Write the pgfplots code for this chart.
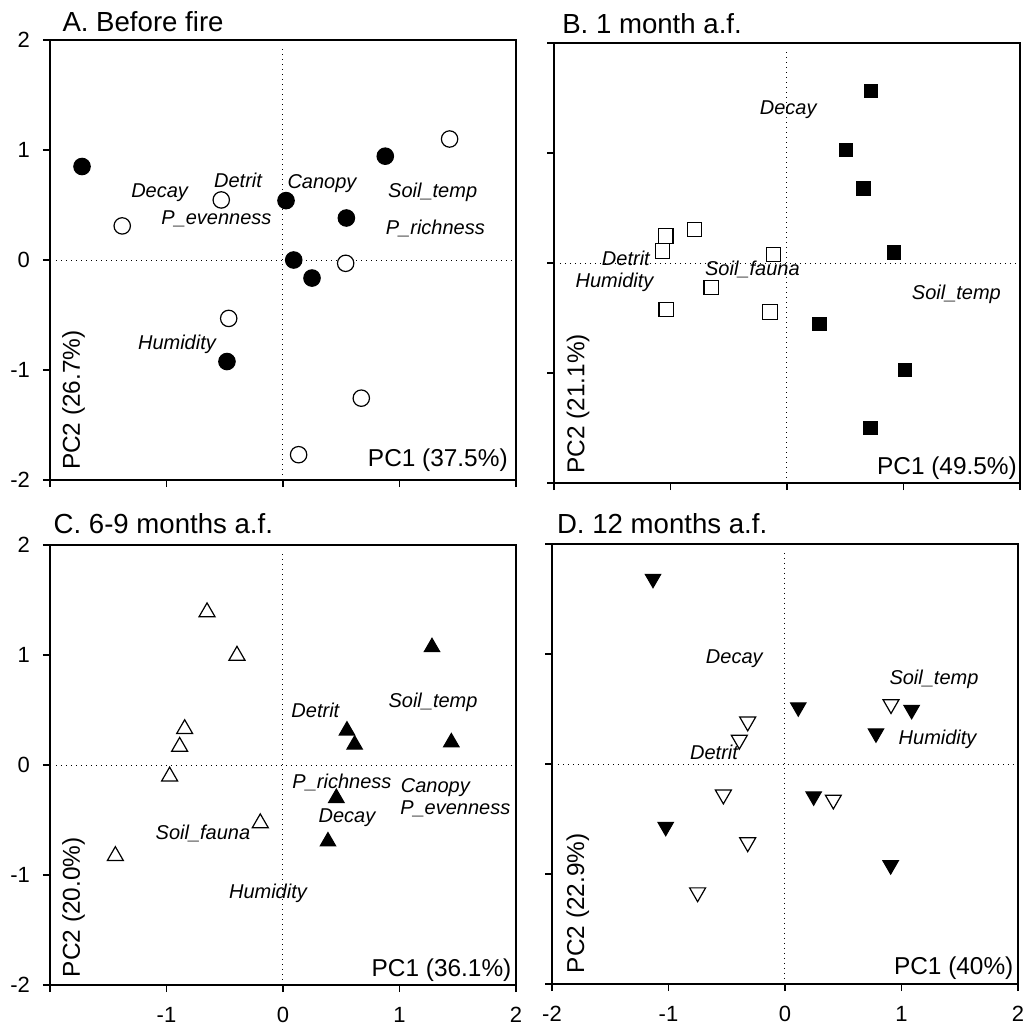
\documentclass[border=0pt]{standalone}
\usepackage{fontspec}
\setmainfont{Liberation Sans}
\usepackage{pgfplots}
\pgfplotsset{compat=1.18}
\begin{document}
\begin{tikzpicture}
\path[use as bounding box] (0,0) rectangle (512.5pt,-512.5pt);
\pgfplotsset{
 pca/.style={
  scale only axis, width=233pt, height=220pt,
  xmin=-2,xmax=2,ymin=-2,ymax=2,
  xtick={-2,-1,0,1,2}, ytick={-2,-1,0,1,2},
  tick pos=left, tick align=outside, major tick length=3.5pt,
  axis line style={line width=0.7pt},
  every tick/.style={black,line width=0.7pt},
  tick label style={font=\fontsize{11}{13}\selectfont},
  /pgf/number format/assume math mode=true,
  xticklabel style={inner sep=0pt, yshift=-7.3pt},
  yticklabel style={xshift=-3pt},
  clip=false,
  anchor=north west,
 },
}
\tikzset{
 lab/.style={font=\fontsize{10}{12}\selectfont\itshape, inner sep=0pt},
 ttl/.style={font=\fontsize{13.8}{16}\selectfont, anchor=base west, inner sep=0pt},
 pcx/.style={font=\fontsize{12.2}{14}\selectfont, anchor=base east, inner sep=0pt},
 pcy/.style={font=\fontsize{12.2}{14}\selectfont, anchor=base west, rotate=90, inner sep=0pt},
 zline/.style={black, dotted, line width=0.5pt},
}
\pgfplotsset{
 fillm/.style={only marks, mark options={draw=black, fill=black, line width=0.6pt}},
 openm/.style={only marks, mark options={draw=black, fill=white, line width=0.6pt}},
 fillv/.style={only marks, mark options={draw=black, fill=black, line width=0.6pt, rotate=180}},
 openv/.style={only marks, mark options={draw=black, fill=white, line width=0.6pt, rotate=180}},
}
% ---------------- A ----------------
\begin{axis}[pca, at={(25pt,-20pt)}, xticklabels={}]
\addplot[zline] coordinates {(0,-1.95) (0,1.95)};
\addplot[zline] coordinates {(-1.95,0) (2,0)};
\addplot[fillm, mark=*, mark size=4.1pt] coordinates {
(-1.725,0.85) (0.878,0.944) (0.026,0.54) (0.544,0.382) (0.092,0.0) (0.249,-0.164) (-0.481,-0.923)};
\addplot[openm, mark=*, mark size=4.1pt] coordinates {
(1.43,1.10) (-1.38,0.31) (-0.53,0.546) (0.538,-0.03) (-0.466,-0.531) (0.672,-1.256) (0.134,-1.77)};
\node[lab] at (-0.386,0.722) {Detrit};
\node[lab] at (-1.059,0.616) {Decay};
\node[lab] at (-0.572,0.373) {P\_evenness};
\node[lab] at (0.335,0.698) {Canopy};
\node[lab] at (1.285,0.616) {Soil\_temp};
\node[lab] at (1.308,0.288) {P\_richness};
\node[lab] at (-0.91,-0.765) {Humidity};
\node[ttl] at (rel axis cs:0.026,1) [yshift=4.2pt] {A. Before fire};
\node[pcx] at (rel axis cs:0.983,0.03) {PC1 (37.5\%)};
\node[pcy] at (rel axis cs:0.064,0.022) {PC2 (26.7\%)};
\end{axis}
% ---------------- B ----------------
\begin{axis}[pca, at={(277pt,-21.5pt)}, xticklabels={}, yticklabels={}]
\addplot[zline] coordinates {(0,-1.95) (0,1.95)};
\addplot[zline] coordinates {(-1.95,0) (2,0)};
\addplot[fillm, mark=square*, mark size=3.3pt] coordinates {
(0.721,1.564) (0.506,1.027) (0.658,0.676) (0.921,0.094) (0.278,-0.552) (1.013,-0.970) (0.718,-1.50)};
\addplot[openm, mark=square*, mark size=3.6pt] coordinates {
(-1.041,0.245) (-0.794,0.306) (-1.069,0.109) (-0.117,0.076) (-0.651,-0.224) (-1.037,-0.424) (-0.146,-0.445)};
\node[lab] at (0.011,1.394) {Decay};
\node[lab] at (-1.383,0.039) {Detrit};
\node[lab] at (-1.48,-0.179) {Humidity};
\node[lab] at (-0.297,-0.061) {Soil\_fauna};
\node[lab] at (1.454,-0.288) {Soil\_temp};
\node[ttl] at (rel axis cs:0.017,1) [yshift=4.8pt] {B. 1 month a.f.};
\node[pcx] at (rel axis cs:0.994,0.02) {PC1 (49.5\%)};
\node[pcy] at (rel axis cs:0.065,0.02) {PC2 (21.1\%)};
\end{axis}
% ---------------- C ----------------
\begin{axis}[pca, at={(25pt,-272.5pt)}, xticklabels={,-1,0,1,2}]
\addplot[zline] coordinates {(0,-1.95) (0,1.95)};
\addplot[zline] coordinates {(-1.95,0) (2,0)};
\addplot[fillm, mark=triangle*, mark size=4.4pt] coordinates {
(1.279,1.071) (0.549,0.313) (0.615,0.185) (1.445,0.206) (0.458,-0.30) (0.386,-0.695)};
\addplot[openm, mark=triangle*, mark size=4.6pt] coordinates {
(-0.652,1.39) (-0.395,0.995) (-0.844,0.328) (-0.887,0.167) (-0.973,-0.103) (-0.195,-0.528) (-1.439,-0.826)};
\node[lab] at (0.278,0.495) {Detrit};
\node[lab] at (1.288,0.571) {Soil\_temp};
\node[lab] at (0.506,-0.158) {P\_richness};
\node[lab] at (1.308,-0.203) {Canopy};
\node[lab] at (1.479,-0.40) {P\_evenness};
\node[lab] at (0.549,-0.476) {Decay};
\node[lab] at (-0.687,-0.619) {Soil\_fauna};
\node[lab] at (-0.129,-1.165) {Humidity};
\node[ttl] at (rel axis cs:0.007,1) [yshift=6pt] {C. 6-9 months a.f.};
\node[pcx] at (rel axis cs:0.991,0.019) {PC1 (36.1\%)};
\node[pcy] at (rel axis cs:0.064,0.017) {PC2 (20.0\%)};
\end{axis}
% ---------------- D ----------------
\begin{axis}[pca, at={(276pt,-272pt)}, xticklabels={-2,-1,0,1,2}, yticklabels={}]
\addplot[zline] coordinates {(0,-1.95) (0,1.95)};
\addplot[zline] coordinates {(-1.95,0) (2,0)};
\addplot[fillv, mark=triangle*, mark size=4.4pt] coordinates {
(-1.133,1.684) (0.114,0.516) (1.087,0.492) (0.781,0.279) (0.246,-0.294) (-1.024,-0.571) (0.907,-0.92)};
\addplot[openv, mark=triangle*, mark size=4.6pt] coordinates {
(0.91,0.543) (-0.32,0.385) (-0.392,0.219) (-0.529,-0.279) (0.415,-0.325) (-0.32,-0.713) (-0.75,-1.168)};
\node[lab] at (-0.435,0.956) {Decay};
\node[lab] at (1.279,0.768) {Soil\_temp};
\node[lab] at (1.31,0.228) {Humidity};
\node[lab] at (-0.609,0.106) {Detrit};
\node[ttl] at (rel axis cs:0.01,1) [yshift=5.3pt] {D. 12 months a.f.};
\node[pcx] at (rel axis cs:0.991,0.022) {PC1 (40\%)};
\node[pcy] at (rel axis cs:0.069,0.024) {PC2 (22.9\%)};
\end{axis}
\end{tikzpicture}
\end{document}
